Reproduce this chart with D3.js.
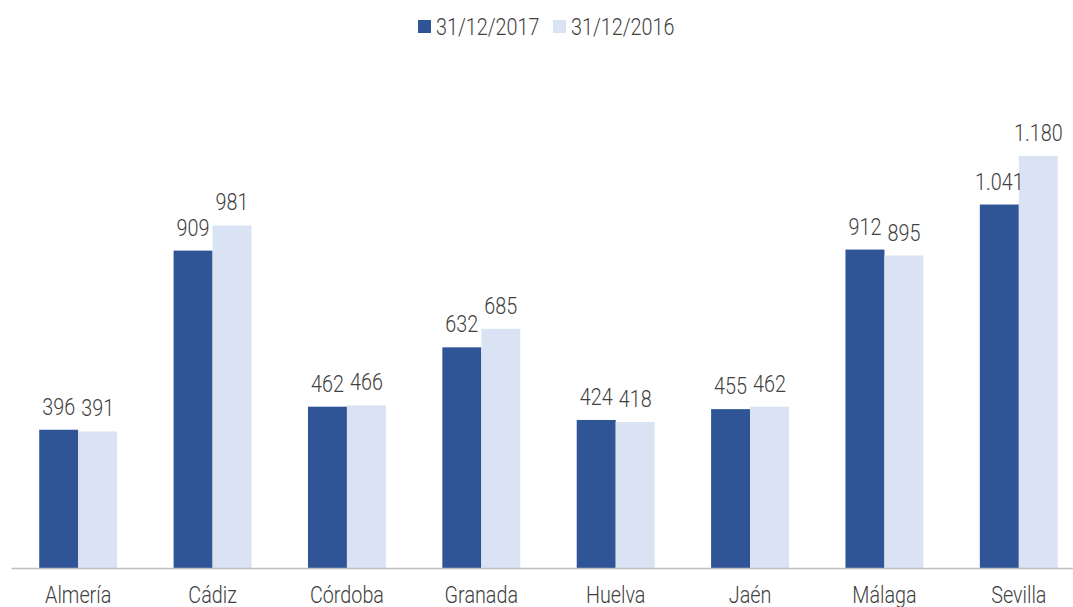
<!DOCTYPE html>
<html>
<head>
<meta charset="utf-8">
<script src="https://cdn.jsdelivr.net/npm/d3@7"></script>
<style>
  body { margin: 0; background: #fff; }
  svg text { font-family: Roboto, "Liberation Sans", sans-serif; font-weight: 300; fill: #404040; }
</style>
</head>
<body>
<svg id="chart" width="1073" height="607"></svg>
<script>
// data
const provincias = ['Almería', 'Cádiz', 'Córdoba', 'Granada', 'Huelva', 'Jaén', 'Málaga', 'Sevilla']
const valores2017 = [396, 909, 462, 632, 424, 455, 912, 1041]
const valores2016 = [391, 981, 466, 685, 418, 462, 895, 1180]
const series = ['31/12/2017', '31/12/2016']
const colores = ['#2F5597', '#DAE3F3']

const svg = d3.select('#chart')
const margin = { top: 60, right: -13, bottom: 39, left: 11 }
const width = 1073 - margin.left - margin.right
const height = 607 - margin.top - margin.bottom
const squeeze = 0.86 // the original font is a condensed one

const g = svg.append('g')
  .attr('transform', 'translate(' + margin.left + ',' + margin.top + ')')

const x = d3.scaleBand()
  .domain(provincias)
  .range([0, width])
  .paddingInner(0.42)
  .paddingOuter(0.21)

const xSub = d3.scaleBand()
  .domain(series)
  .range([0, x.bandwidth()])

const y = d3.scaleLinear()
  .domain([0, 1180])
  .range([height, 156 - margin.top])

const fmt = v => d3.format(',')(v).replace(/,/g, '.')

const datos = provincias.map((p, i) => ({
  prov: p,
  vals: [
    { serie: series[0], v: valores2017[i], c: colores[0] },
    { serie: series[1], v: valores2016[i], c: colores[1] }
  ]
}))

const grupos = g.selectAll('g.grupo')
  .data(datos)
  .enter().append('g')
  .attr('class', 'grupo')
  .attr('transform', d => 'translate(' + x(d.prov) + ',0)')

grupos.selectAll('rect')
  .data(d => d.vals)
  .enter().append('rect')
  .attr('x', d => xSub(d.serie))
  .attr('y', d => y(d.v))
  .attr('width', xSub.bandwidth())
  .attr('height', d => height - y(d.v))
  .attr('fill', d => d.c)

grupos.selectAll('text.valor')
  .data(d => d.vals)
  .enter().append('text')
  .attr('class', 'valor')
  .attr('transform', d => 'translate(' + (xSub(d.serie) + xSub.bandwidth() / 2) + ',' + (y(d.v) - 15) + ') scale(' + squeeze + ',1)')
  .attr('text-anchor', 'middle')
  .style('font-size', '23px')
  .text(d => fmt(d.v))

// axis
const xAxis = g.append('g')
  .attr('transform', 'translate(0,' + height + ')')
  .call(d3.axisBottom(x).tickSize(0).tickPadding(19))
xAxis.select('.domain').attr('stroke', '#BFBFBF').attr('stroke-width', 1.3)
xAxis.selectAll('text')
  .style('font-size', '23px')
  .attr('dy', '0.71em')
  .attr('transform', 'scale(' + squeeze + ',1)')

// legend
const legend = svg.append('g').attr('class', 'legend')
const legX = [418, 553]
series.forEach((s, i) => {
  legend.append('rect')
    .attr('x', legX[i]).attr('y', 20)
    .attr('width', 13).attr('height', 13)
    .attr('fill', colores[i])
  legend.append('text')
    .attr('transform', 'translate(' + (legX[i] + 18) + ',35) scale(' + squeeze + ',1)')
    .style('font-size', '23px')
    .text(s)
})
</script>
</body>
</html>
